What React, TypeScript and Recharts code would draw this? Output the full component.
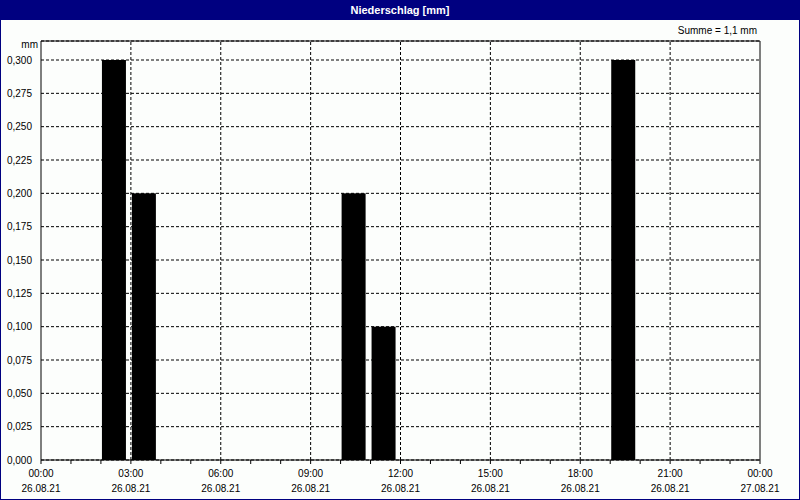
import React from "react";
import { ComposedChart, Bar, XAxis, YAxis, CartesianGrid, ReferenceLine } from "recharts";

const hours = [2, 3, 10, 11, 19];
const precip = [0.3, 0.2, 0.2, 0.1, 0.3];
const yTicks = [0, 0.025, 0.05, 0.075, 0.1, 0.125, 0.15, 0.175, 0.2, 0.225, 0.25, 0.275, 0.3];
const xTicks = [0, 1, 2, 3, 4, 5, 6, 7, 8, 9, 10, 11, 12, 13, 14, 15, 16, 17, 18, 19, 20, 21, 22, 23, 24];
const gridHours = [3, 6, 9, 12, 15, 18, 21];
const timeLabels = ["00:00", "03:00", "06:00", "09:00", "12:00", "15:00", "18:00", "21:00", "00:00"];
const dateLabels = ["26.08.21", "26.08.21", "26.08.21", "26.08.21", "26.08.21", "26.08.21", "26.08.21", "26.08.21", "27.08.21"];
const yMax = 0.31425;

const data = hours.map((h, i) => ({ h, v: precip[i] }));

const FONT = "'Liberation Sans', Arial, sans-serif";

const XTick = (props: any) => {
  const { x, y, payload } = props;
  const h = payload.value;
  if (h % 3 !== 0) return null;
  const i = h / 3;
  return (
    <g>
      <text x={x} y={y + 11} textAnchor="middle" fontSize={10} fontFamily={FONT} fill="#000">
        {timeLabels[i]}
      </text>
      <text x={x} y={y + 26} textAnchor="middle" fontSize={10} fontFamily={FONT} fill="#000">
        {dateLabels[i]}
      </text>
    </g>
  );
};

const BarShape = (props: any) => {
  const { x, y, width, height } = props;
  if (!height || height <= 0) return null;
  return <rect x={x + width / 2 + 1} y={y} width={24} height={height} fill="#000" />;
};

export default function App() {
  return (
    <div
      style={{
        position: "absolute",
        left: 0,
        top: 0,
        width: 800,
        height: 500,
        background: "#fcfefc",
        boxSizing: "border-box",
        border: "1px solid #000080",
        borderTop: "none",
        fontFamily: FONT,
      }}
    >
      <div
        style={{
          position: "absolute",
          left: -1,
          top: 0,
          width: 800,
          height: 20,
          background: "#000080",
          color: "#fff",
          fontWeight: "bold",
          fontSize: 11,
          lineHeight: "20px",
          textAlign: "center",
        }}
      >
        Niederschlag [mm]
      </div>
      <div style={{ position: "absolute", right: 42, top: 25, fontSize: 10, color: "#000" }}>
        Summe = 1,1 mm
      </div>
      <div style={{ position: "absolute", left: 0, width: 37, textAlign: "right", top: 39, fontSize: 10, color: "#000" }}>
        mm
      </div>
      <div style={{ position: "absolute", left: -1, top: 0 }}>
        <ComposedChart width={800} height={500} data={data} margin={{ top: 41, right: 40, left: 0, bottom: 0 }}>
          <CartesianGrid vertical={false} stroke="#000" strokeDasharray="3 2" />
          <XAxis
            dataKey="h"
            type="number"
            domain={[0, 24]}
            ticks={xTicks}
            interval={0}
            height={40}
            axisLine={{ stroke: "#000" }}
            tickLine={{ stroke: "#000" }}
            tickSize={4}
            tick={<XTick />}
          />
          <YAxis
            type="number"
            domain={[0, yMax]}
            ticks={yTicks}
            interval={0}
            width={41}
            axisLine={{ stroke: "#000" }}
            tickLine={false}
            tickFormatter={(v: number) => v.toFixed(3).replace(".", ",")}
            tick={{ fontSize: 10, fontFamily: FONT, fill: "#000" }}
            tickMargin={3}
          />
          {gridHours.map((g) => (
            <ReferenceLine key={g} x={g} stroke="#000" strokeDasharray="3 2" />
          ))}
          <ReferenceLine y={yMax} stroke="#000" />
          <ReferenceLine x={24} stroke="#000" />
          <Bar dataKey="v" barSize={24} isAnimationActive={false} shape={<BarShape />} />
        </ComposedChart>
      </div>
    </div>
  );
}
